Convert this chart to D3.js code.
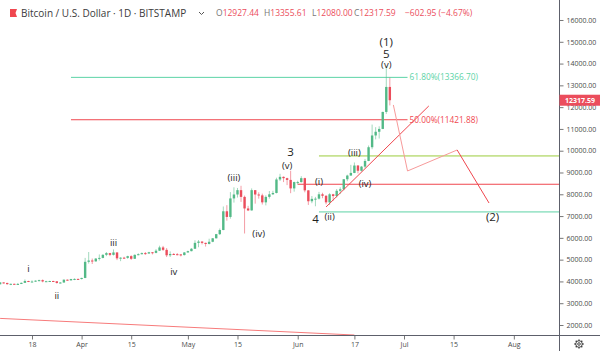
<!doctype html>
<html lang="en">
<head>
<meta charset="utf-8">
<title>Bitcoin / U.S. Dollar 1D BITSTAMP</title>
<style>
  body { margin: 0; background: #fff; }
  svg text { font-family: "Open Sans", sans-serif; }
  .axis text { fill: #4a4a4a; font-size: 7px; }
  .axis line { stroke: #777; }
</style>
</head>
<body>
<div id="chart"></div>
<script src="https://cdn.jsdelivr.net/npm/d3@7/dist/d3.min.js"></script>
<script>
// daily candles, BITSTAMP BTC/USD 2019
var dates = [
  "2019-03-08","2019-03-09","2019-03-10","2019-03-11","2019-03-12","2019-03-13","2019-03-14","2019-03-15",
  "2019-03-16","2019-03-17","2019-03-18","2019-03-19","2019-03-20","2019-03-21","2019-03-22","2019-03-23",
  "2019-03-24","2019-03-25","2019-03-26","2019-03-27","2019-03-28","2019-03-29","2019-03-30","2019-03-31",
  "2019-04-01","2019-04-02","2019-04-03","2019-04-04","2019-04-05","2019-04-06","2019-04-07","2019-04-08",
  "2019-04-09","2019-04-10","2019-04-11","2019-04-12","2019-04-13","2019-04-14","2019-04-15","2019-04-16",
  "2019-04-17","2019-04-18","2019-04-19","2019-04-20","2019-04-21","2019-04-22","2019-04-23","2019-04-24",
  "2019-04-25","2019-04-26","2019-04-27","2019-04-28","2019-04-29","2019-04-30",
  "2019-05-01","2019-05-02","2019-05-03","2019-05-04","2019-05-05","2019-05-06","2019-05-07","2019-05-08",
  "2019-05-09","2019-05-10","2019-05-11","2019-05-12","2019-05-13","2019-05-14","2019-05-15","2019-05-16",
  "2019-05-17","2019-05-18","2019-05-19","2019-05-20","2019-05-21","2019-05-22","2019-05-23","2019-05-24",
  "2019-05-25","2019-05-26","2019-05-27","2019-05-28","2019-05-29","2019-05-30","2019-05-31",
  "2019-06-01","2019-06-02","2019-06-03","2019-06-04","2019-06-05","2019-06-06","2019-06-07","2019-06-08",
  "2019-06-09","2019-06-10","2019-06-11","2019-06-12","2019-06-13","2019-06-14","2019-06-15","2019-06-16",
  "2019-06-17","2019-06-18","2019-06-19","2019-06-20","2019-06-21","2019-06-22","2019-06-23","2019-06-24",
  "2019-06-25","2019-06-26","2019-06-27"
];
var opens = [
  3860,3870,3955,3930,3875,3890,3880,3885,3935,4020,3990,3995,4035,4060,4000,4010,4020,4005,3930,3950,4080,4050,4110,4115,
  4110,4160,4900,4960,4920,5050,5080,5220,5300,5220,5330,5060,5090,5080,5160,5040,5220,5250,5300,5280,5340,5310,5410,5560,5450,5200,5260,5250,5240,5210,
  5330,5390,5500,5770,5830,5770,5720,5820,5980,6170,6360,7220,6960,7810,7990,8190,7880,7350,7260,8190,7990,7950,7630,7880,8000,8060,8680,8800,8740,8660,8270,
  8560,8560,8740,8180,7680,7790,7800,8000,7930,7630,8000,7920,8160,8230,8690,8860,8980,9320,9080,9270,9530,10160,10700,10870,11000,11780,12927.44
];
var highs = [
  3920,3970,3960,3940,3900,3900,3930,3950,4090,4030,4050,4050,4080,4090,4030,4030,4030,4010,3970,4090,4090,4120,4140,4130,
  4170,5080,5350,5050,5070,5240,5250,5350,5310,5470,5340,5110,5130,5180,5200,5240,5290,5330,5350,5360,5350,5480,5640,5630,5530,5380,5300,5300,5260,5350,
  5410,5530,5890,5900,5840,5780,5960,5990,6180,6430,7440,7500,8100,8320,8290,8390,7940,7470,8270,8190,8090,8030,7950,8150,8160,8760,8940,8820,8760,9080,8580,
  8620,8830,8760,8190,7920,7880,8110,8070,7960,8050,8020,8240,8320,8700,8900,9350,9460,9340,9300,9620,10240,11200,11080,11120,11790,13880,13355.61
];
var lows = [
  3830,3860,3900,3850,3830,3860,3850,3880,3930,3970,3970,3980,4000,3960,3990,3990,3980,3900,3910,3940,4030,4040,4060,4090,
  4090,4150,4820,4800,4910,4960,5060,5160,5160,5190,4980,4930,5050,5040,4990,5030,5200,5240,5220,5270,5240,5290,5400,5400,5120,5120,5220,5200,5150,5190,
  5320,5380,5490,5570,5700,5600,5700,5800,5970,6130,6350,6790,6880,7620,7850,7650,6200,7230,7250,7570,7800,7530,7490,7800,7970,8040,8610,8560,8420,8050,8120,
  8450,8540,8090,7510,7590,7450,7760,7820,7540,7510,7700,7850,8010,8180,8600,8850,8970,8960,9050,9200,9520,10070,10520,10560,10990,11690,12080
];
var closes = [
  3870,3955,3930,3875,3890,3880,3885,3935,4020,3990,3995,4035,4060,4000,4010,4020,4005,3930,3950,4080,4050,4110,4115,4110,
  4160,4900,4960,4920,5050,5080,5220,5300,5220,5330,5060,5090,5080,5160,5040,5220,5250,5300,5280,5340,5310,5410,5560,5450,5200,5260,5250,5240,5210,5330,
  5390,5500,5770,5830,5770,5720,5820,5980,6170,6360,7220,6960,7810,7990,8190,7880,7350,7260,8190,7990,7950,7630,7880,8000,8060,8680,8800,8740,8660,8270,8560,
  8560,8740,8180,7680,7790,7800,8000,7930,7630,8000,7920,8160,8230,8690,8860,8980,9320,9080,9270,9530,10160,10700,10870,11000,11780,12927.44,12317.59
];
var change = [-602.95, -4.67];

// axes
var yTicks = [2000,3000,4000,5000,6000,7000,8000,9000,10000,11000,12000,13000,14000,15000,16000];
var xTickDates = ["2019-03-18","2019-04-01","2019-04-15","2019-05-01","2019-05-15","2019-06-01","2019-06-17","2019-07-01","2019-07-15","2019-08-01"];
var xTickLabels = ["18","Apr","15","May","15","Jun","17","Jul","15","Aug"];

// drawings
var fibLevels = [["61.80%", 13366.70], ["50.00%", 11421.88]];
var fibSpan = ["2019-03-29", "2019-07-02"];
var hLines = [["2019-06-07", 9760], ["2019-06-01", 8460], ["2019-06-07", 7190]];
var trendLine = [["2019-06-09", 7418], ["2019-07-08", 12054]];
var longLine = [["2019-03-09", 2303], ["2019-06-17", 1540]];
var projection = [["2019-06-28", 12100], ["2019-07-02", 9070], ["2019-07-16", 10034], ["2019-07-25", 7600]];
var waveText = ["i","ii","iii","iv","(iii)","(iv)","(v)","3","(i)","4","(ii)","(iii)","(iv)","(1)","5","(v)","(2)"];
var waveDate = ["2019-03-17","2019-03-25","2019-04-10","2019-04-27","2019-05-14","2019-05-21","2019-05-29","2019-05-30",
                "2019-06-07","2019-06-06","2019-06-10","2019-06-17","2019-06-20","2019-06-26","2019-06-26","2019-06-26","2019-07-26"];
var wavePrice = [4571,3331,5764,4433,8748,6177,9300,9950,8564,6866,6958,9895,8472,15000,14460,13960,6958];
var waveBig = [0,0,0,0,0,0,0,1,0,1,0,0,0,1,1,0,1];

var W = 600, H = 351, plotR = 559, plotB = 335;
var parse = d3.utcParse("%Y-%m-%d");
var up = "#53b987", down = "#eb4d5c";

var x = d3.scaleUtc().domain([parse("2019-03-18"), parse("2019-07-01")]).range([32, 404]);
var y = d3.scaleLinear().domain([1541, 16918]).range([plotB, 0]);

var svg = d3.select("#chart").append("svg").attr("width", W).attr("height", H);
svg.append("rect").attr("width", W).attr("height", H).attr("fill", "#fff");
svg.append("clipPath").attr("id", "plot").append("rect").attr("width", plotR).attr("height", plotB);
var g = svg.append("g").attr("clip-path", "url(#plot)");

// long descending line
g.append("line")
  .attr("x1", x(parse(longLine[0][0]))).attr("y1", y(longLine[0][1]))
  .attr("x2", x(parse(longLine[1][0]))).attr("y2", y(longLine[1][1]))
  .attr("stroke", "#f77b7b").attr("stroke-width", 1);

// fib retracement levels
var fibCol = ["#5cd3a6", "#f0474f"];
fibLevels.forEach(function(f, i) {
  g.append("line")
    .attr("x1", x(parse(fibSpan[0]))).attr("x2", x(parse(fibSpan[1])))
    .attr("y1", y(f[1])).attr("y2", y(f[1]))
    .attr("stroke", fibCol[i]).attr("stroke-width", 1);
  g.append("text")
    .attr("x", x(parse(fibSpan[1])) + 2).attr("y", y(f[1]))
    .attr("dy", "0.35em").attr("font-size", 8.3).attr("fill", fibCol[i])
    .text(f[0] + "(" + f[1].toFixed(2) + ")");
});

// horizontal rays
var hCol = ["#9ccc3c", "#f0474f", "#5cd3a6"];
hLines.forEach(function(h, i) {
  g.append("line")
    .attr("x1", x(parse(h[0]))).attr("x2", plotR)
    .attr("y1", y(h[1])).attr("y2", y(h[1]))
    .attr("stroke", hCol[i]).attr("stroke-width", 1);
});

// candles
var candles = g.append("g");
dates.forEach(function(d, i) {
  var cx = x(parse(d)), col = closes[i] >= opens[i] ? up : down;
  candles.append("line")
    .attr("x1", cx).attr("x2", cx).attr("y1", y(highs[i])).attr("y2", y(lows[i]))
    .attr("stroke", col).attr("stroke-opacity", 0.55).attr("stroke-width", 1);
  var top = y(Math.max(opens[i], closes[i])), bot = y(Math.min(opens[i], closes[i]));
  candles.append("rect")
    .attr("x", cx - 1.2).attr("width", 2.4)
    .attr("y", top).attr("height", Math.max(1, bot - top))
    .attr("fill", col);
});

// trend line
g.append("line")
  .attr("x1", x(parse(trendLine[0][0]))).attr("y1", y(trendLine[0][1]))
  .attr("x2", x(parse(trendLine[1][0]))).attr("y2", y(trendLine[1][1]))
  .attr("stroke", "#f0474f").attr("stroke-width", 1);

// projected path
var proj = projection.map(function(p) { return [x(parse(p[0])), y(p[1])]; });
g.append("path").attr("d", d3.line()(proj.slice(0, 3)))
  .attr("fill", "none").attr("stroke", "#f79a9a").attr("stroke-width", 1);
g.append("path").attr("d", d3.line()(proj.slice(2)))
  .attr("fill", "none").attr("stroke", "#f0474f").attr("stroke-width", 1);

// wave labels
waveText.forEach(function(t, i) {
  g.append("text")
    .attr("x", x(parse(waveDate[i]))).attr("y", y(wavePrice[i]))
    .attr("dy", "0.35em").attr("text-anchor", "middle")
    .attr("font-family", "DejaVu Sans, sans-serif")
    .attr("font-size", waveBig[i] ? 11.5 : 9.5)
    .attr("fill", "#1e1e1e")
    .text(t);
});

// axes
var xAxis = d3.axisBottom(x)
  .tickValues(xTickDates.map(parse))
  .tickFormat(function(d, i) { return xTickLabels[i]; })
  .tickSize(4).tickPadding(3);
svg.append("g").attr("class", "axis").attr("transform", "translate(0," + (plotB + 0.5) + ")")
  .call(xAxis).call(function(a) { a.select(".domain").remove(); });

var yAxis = d3.axisRight(y).tickValues(yTicks)
  .tickFormat(function(d) { return d.toFixed(2); })
  .tickSize(4).tickPadding(3);
svg.append("g").attr("class", "axis").attr("transform", "translate(" + (plotR + 0.5) + ",0)")
  .call(yAxis).call(function(a) { a.select(".domain").remove(); });

svg.append("line").attr("x1", 0).attr("x2", W).attr("y1", plotB + 0.5).attr("y2", plotB + 0.5)
  .attr("stroke", "#5d606b");
svg.append("line").attr("x1", plotR + 0.5).attr("x2", plotR + 0.5).attr("y1", 0).attr("y2", H)
  .attr("stroke", "#5d606b");

// last price tag
var last = closes[closes.length - 1];
svg.append("rect").attr("x", plotR + 0.5).attr("y", y(last) - 5.5).attr("width", W - plotR).attr("height", 11)
  .attr("fill", down);
svg.append("text").attr("x", plotR + 6).attr("y", y(last)).attr("dy", "0.35em")
  .attr("font-size", 7).attr("font-weight", "bold").attr("fill", "#fff").text(last.toFixed(2));

// gear icon
var gear = svg.append("g").attr("transform", "translate(579,344)")
  .attr("fill", "none").attr("stroke", "#333").attr("stroke-width", 0.9);
gear.append("circle").attr("r", 3.3);
gear.append("circle").attr("r", 1.3);
d3.range(8).forEach(function(k) {
  var a = k * Math.PI / 4;
  gear.append("line").attr("x1", Math.cos(a) * 3.3).attr("y1", Math.sin(a) * 3.3)
    .attr("x2", Math.cos(a) * 4.6).attr("y2", Math.sin(a) * 4.6).attr("stroke-width", 1.3);
});

// header legend
svg.append("path").attr("d", "M10,9H17L15.5,13L17,17H10Z").attr("fill", "#f0474f");
svg.append("text").attr("x", 21).attr("y", 13).attr("dy", "0.35em")
  .attr("font-size", 10).attr("fill", "#3b3b3b")
  .text("Bitcoin / U.S. Dollar \u00b7 1D \u00b7 BITSTAMP");
svg.append("path").attr("d", "M199,12L201.5,14.5L204,12").attr("fill", "none").attr("stroke", "#555").attr("stroke-width", 1);
var n = opens.length - 1;
var legend = [["O", opens[n], 216], ["H", highs[n], 264], ["L", lows[n], 312], ["C", closes[n], 354]];
legend.forEach(function(l) {
  var t = svg.append("text").attr("x", l[2]).attr("y", 13).attr("dy", "0.35em").attr("font-size", 8.5);
  t.append("tspan").attr("fill", "#777").text(l[0]);
  t.append("tspan").attr("fill", down).text(l[1].toFixed(2));
});
svg.append("text").attr("x", 405).attr("y", 13).attr("dy", "0.35em").attr("font-size", 8.5).attr("fill", down)
  .text("\u2212" + Math.abs(change[0]).toFixed(2) + " (\u2212" + Math.abs(change[1]).toFixed(2) + "%)");
</script>
</body>
</html>
